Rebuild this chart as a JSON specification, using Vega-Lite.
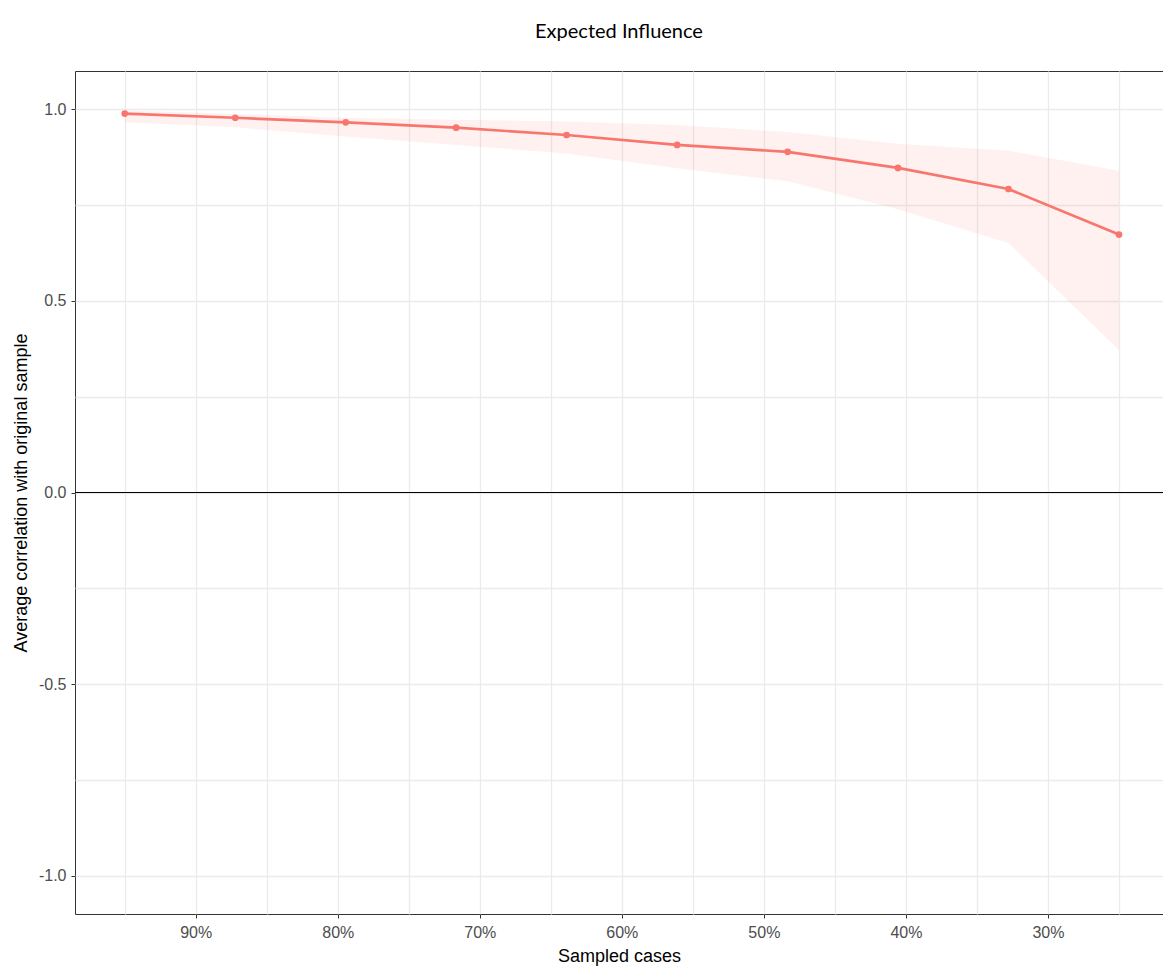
{
  "$schema": "https://vega.github.io/schema/vega-lite/v6.json",
  "width": 1088,
  "height": 843,
  "autosize": {"type": "none"},
  "padding": {"left": 75, "top": 71, "right": 0, "bottom": 58},
  "background": "white",
  "title": {
    "text": "Expected Influence",
    "font": "Lato",
    "fontSize": 20,
    "fontWeight": "normal",
    "color": "#000000",
    "anchor": "middle",
    "frame": "group",
    "offset": 29
  },
  "config": {
    "view": {"stroke": "#333333", "strokeWidth": 1},
    "axis": {
      "domain": false,
      "gridColor": "#EBEBEB",
      "gridWidth": 1.3,
      "tickColor": "#333333",
      "tickSize": 4,
      "labelFont": "Liberation Sans",
      "labelFontSize": 16,
      "labelColor": "#4D4D4D",
      "titleFont": "Liberation Sans",
      "titleFontSize": 18,
      "titleFontWeight": "normal",
      "titleColor": "#000000"
    }
  },
  "data": {
    "values": [
      {"pct": 0.95, "mean": 0.989, "lower": 0.966, "upper": 0.997},
      {"pct": 0.8722, "mean": 0.978, "lower": 0.953, "upper": 0.988},
      {"pct": 0.7944, "mean": 0.966, "lower": 0.929, "upper": 0.978},
      {"pct": 0.7167, "mean": 0.952, "lower": 0.907, "upper": 0.973},
      {"pct": 0.6389, "mean": 0.933, "lower": 0.885, "upper": 0.968},
      {"pct": 0.5611, "mean": 0.907, "lower": 0.846, "upper": 0.959},
      {"pct": 0.4833, "mean": 0.889, "lower": 0.812, "upper": 0.941},
      {"pct": 0.4056, "mean": 0.847, "lower": 0.739, "upper": 0.910},
      {"pct": 0.3278, "mean": 0.792, "lower": 0.651, "upper": 0.892},
      {"pct": 0.25, "mean": 0.673, "lower": 0.372, "upper": 0.840}
    ]
  },
  "layer": [
    {
      "mark": {"type": "area", "color": "#F8766D", "opacity": 0.1},
      "encoding": {
        "x": {
          "field": "pct",
          "type": "quantitative",
          "scale": {"domain": [0.219, 0.985], "reverse": true, "nice": false, "zero": false},
          "axis": {
            "title": "Sampled cases",
            "values": [0.25, 0.3, 0.35, 0.4, 0.45, 0.5, 0.55, 0.6, 0.65, 0.7, 0.75, 0.8, 0.85, 0.9, 0.95],
            "labelExpr": "round(datum.value*100) % 10 == 0 ? format(datum.value, '.0%') : ''",
            "tickOpacity": {"condition": {"test": "round(datum.value*100) % 10 != 0", "value": 0}, "value": 1},
            "labelPadding": 6,
            "titlePadding": 7
          }
        },
        "y": {
          "field": "lower",
          "type": "quantitative",
          "scale": {"domain": [-1.1, 1.1], "nice": false, "zero": false},
          "axis": {
            "title": "Average correlation with original sample",
            "values": [-1, -0.75, -0.5, -0.25, 0, 0.25, 0.5, 0.75, 1],
            "labelExpr": "abs(round(datum.value*100)) % 50 == 0 ? replace(format(datum.value, '.1f'), '\u2212', '-') : ''",
            "tickOpacity": {"condition": {"test": "abs(round(datum.value*100)) % 50 != 0", "value": 0}, "value": 1},
            "labelPadding": 5,
            "titlePadding": 8
          }
        },
        "y2": {"field": "upper"}
      }
    },
    {
      "mark": {"type": "rule", "color": "#000000", "strokeWidth": 1.2},
      "encoding": {"y": {"datum": 0, "type": "quantitative"}}
    },
    {
      "mark": {"type": "line", "color": "#F8766D", "strokeWidth": 2.7},
      "encoding": {
        "x": {"field": "pct", "type": "quantitative"},
        "y": {"field": "mean", "type": "quantitative"}
      }
    },
    {
      "mark": {"type": "point", "filled": true, "opacity": 1, "color": "#F8766D", "size": 45},
      "encoding": {
        "x": {"field": "pct", "type": "quantitative"},
        "y": {"field": "mean", "type": "quantitative"}
      }
    }
  ]
}
